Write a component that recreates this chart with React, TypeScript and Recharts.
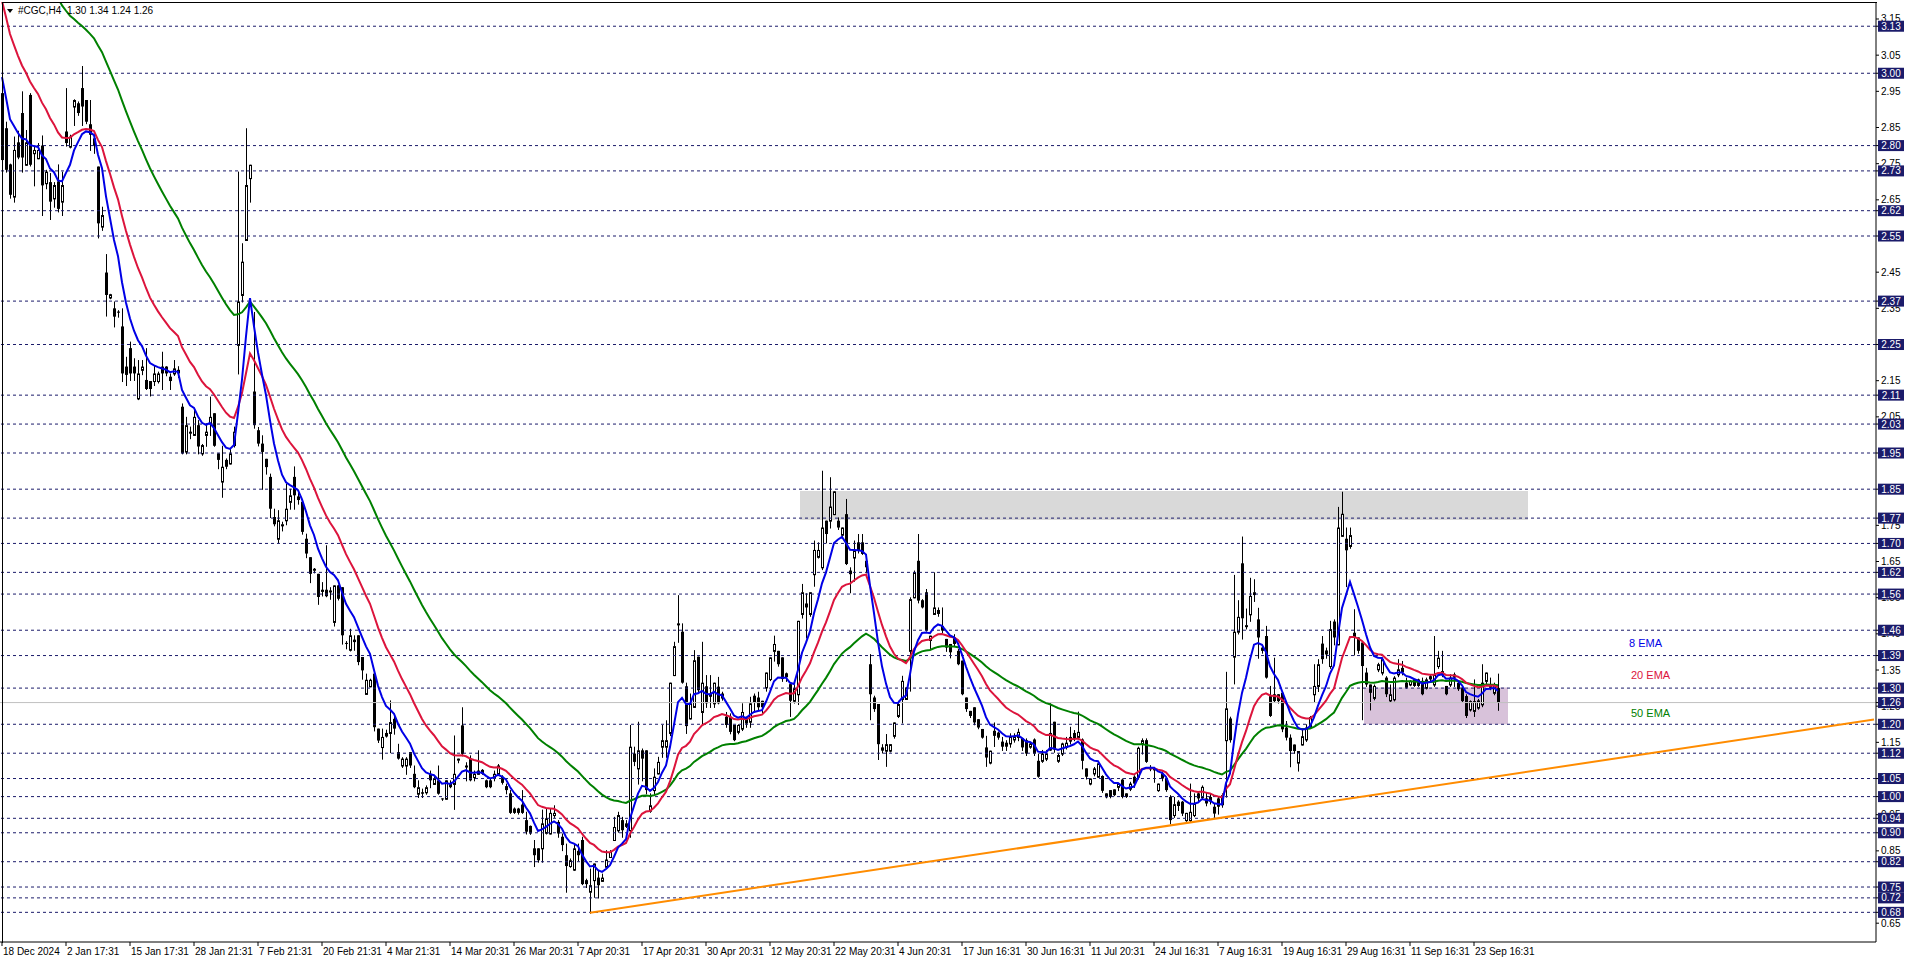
import { ComposedChart, Bar, Line, XAxis, YAxis, ReferenceLine, ReferenceArea } from "recharts";

// H4 candles [open, high, low, close]
const decToFeb = [
  [2.945, 2.95, 2.73, 2.76], [2.848, 2.866, 2.728, 2.733], [2.748, 2.75, 2.656, 2.664], [2.659, 2.825, 2.645, 2.788],
  [2.809, 2.841, 2.765, 2.767], [2.89, 2.95, 2.728, 2.767], [2.747, 2.843, 2.747, 2.809], [2.94, 2.945, 2.745, 2.747],
  [2.779, 2.797, 2.69, 2.788], [2.765, 2.807, 2.765, 2.788], [2.8, 2.828, 2.608, 2.69], [2.696, 2.733, 2.682, 2.728],
  [2.699, 2.724, 2.597, 2.645], [2.654, 2.699, 2.631, 2.691], [2.701, 2.748, 2.618, 2.625], [2.645, 2.728, 2.608, 2.691],
  [2.839, 2.959, 2.8, 2.807], [2.797, 2.83, 2.795, 2.825], [2.908, 2.928, 2.857, 2.926], [2.917, 2.922, 2.885, 2.89],
  [2.959, 3.02, 2.857, 2.908], [2.926, 2.926, 2.862, 2.866], [2.859, 2.926, 2.788, 2.83], [2.82, 2.83, 2.78, 2.8],
  [2.742, 2.742, 2.546, 2.585], [2.576, 2.631, 2.567, 2.608], [2.449, 2.5, 2.33, 2.387], [2.38, 2.39, 2.378, 2.389],
  [2.35, 2.369, 2.3, 2.327], [2.341, 2.345, 2.327, 2.338], [2.3, 2.35, 2.149, 2.17], [2.189, 2.216, 2.138, 2.166],
  [2.24, 2.258, 2.152, 2.17], [2.189, 2.212, 2.152, 2.17], [2.101, 2.207, 2.099, 2.17], [2.18, 2.207, 2.168, 2.189],
  [2.152, 2.24, 2.127, 2.127], [2.149, 2.149, 2.109, 2.127], [2.149, 2.193, 2.138, 2.17], [2.149, 2.175, 2.145, 2.17],
  [2.189, 2.23, 2.127, 2.17], [2.189, 2.19, 2.165, 2.17], [2.161, 2.17, 2.127, 2.149], [2.17, 2.207, 2.166, 2.184],
  [2.18, 2.19, 2.16, 2.17], [2.078, 2.087, 1.949, 1.949], [1.954, 2.05, 1.949, 2.027], [2.009, 2.023, 1.991, 2.009],
  [2.0, 2.074, 2.0, 2.05], [2.027, 2.041, 1.949, 1.968], [1.949, 1.975, 1.945, 1.972], [2.0, 2.032, 1.97, 2.009],
  [2.032, 2.106, 2.0, 2.05], [2.06, 2.06, 1.97, 1.97], [1.949, 1.949, 1.908, 1.931], [1.871, 1.97, 1.829, 1.912],
  [1.931, 1.935, 1.908, 1.912], [1.921, 1.963, 1.921, 1.949], [1.972, 2.023, 1.968, 2.009], [2.249, 2.728, 2.17, 2.369],
  [2.387, 2.53, 2.369, 2.479], [2.539, 2.848, 2.539, 2.691], [2.71, 2.747, 2.645, 2.747], [2.12, 2.34, 2.02, 2.027],
];

const febToApr = [
  [2.013, 2.022, 1.971, 1.976], [1.976, 1.999, 1.851, 1.953], [1.934, 1.934, 1.893, 1.911], [1.884, 1.893, 1.773, 1.796],
  [1.773, 1.796, 1.75, 1.753], [1.713, 1.792, 1.704, 1.764], [1.75, 1.76, 1.736, 1.753], [1.764, 1.865, 1.753, 1.796],
  [1.815, 1.851, 1.796, 1.833], [1.884, 1.913, 1.796, 1.833], [1.83, 1.84, 1.81, 1.82], [1.815, 1.815, 1.727, 1.732],
  [1.713, 1.727, 1.662, 1.672], [1.662, 1.662, 1.593, 1.616], [1.63, 1.632, 1.62, 1.63], [1.616, 1.616, 1.533, 1.552],
  [1.572, 1.593, 1.556, 1.566], [1.572, 1.695, 1.554, 1.554], [1.568, 1.579, 1.547, 1.57], [1.483, 1.584, 1.473, 1.584],
  [1.584, 1.586, 1.545, 1.547], [1.579, 1.579, 1.423, 1.446], [1.425, 1.43, 1.41, 1.423], [1.406, 1.464, 1.404, 1.446],
  [1.43, 1.446, 1.406, 1.434], [1.446, 1.446, 1.366, 1.372], [1.386, 1.386, 1.326, 1.349], [1.284, 1.34, 1.284, 1.323],
  [1.305, 1.326, 1.305, 1.323], [1.34, 1.34, 1.183, 1.192], [1.188, 1.188, 1.151, 1.155], [1.137, 1.188, 1.105, 1.165],
  [1.176, 1.185, 1.166, 1.166], [1.176, 1.266, 1.123, 1.206], [1.215, 1.229, 1.174, 1.188], [1.123, 1.146, 1.105, 1.105],
  [1.086, 1.109, 1.082, 1.105], [1.086, 1.109, 1.063, 1.105], [1.123, 1.123, 1.082, 1.086], [1.063, 1.086, 1.026, 1.026],
  [1.008, 1.045, 0.999, 1.026], [1.012, 1.022, 0.999, 1.008], [1.012, 1.031, 1.008, 1.026], [1.063, 1.072, 1.026, 1.045],
  [1.035, 1.054, 1.035, 1.049], [1.045, 1.086, 1.008, 1.008], [0.995, 0.995, 0.991, 0.993], [0.994, 1.045, 0.994, 1.045],
  [1.035, 1.045, 1.026, 1.026], [1.035, 1.169, 0.966, 1.063], [1.105, 1.105, 1.095, 1.105], [1.197, 1.247, 1.114, 1.118],
  [1.086, 1.095, 1.045, 1.086], [1.105, 1.114, 1.045, 1.045], [1.054, 1.072, 1.045, 1.063], [1.063, 1.128, 1.063, 1.072],
  [1.074, 1.076, 1.063, 1.063], [1.045, 1.047, 1.026, 1.026], [1.045, 1.05, 1.026, 1.026], [1.054, 1.072, 1.045, 1.063],
  [1.063, 1.09, 1.06, 1.086],
];

const aprToMay = [
  [1.055, 1.059, 1.036, 1.038], [1.029, 1.036, 1.009, 1.018], [1.009, 1.018, 0.955, 0.955], [0.967, 0.97, 0.955, 0.955],
  [0.967, 0.969, 0.953, 0.955], [0.978, 1.018, 0.955, 0.955], [0.935, 0.958, 0.898, 0.903], [0.919, 0.92, 0.897, 0.898],
  [0.857, 0.88, 0.808, 0.838], [0.857, 0.857, 0.82, 0.824], [0.857, 0.964, 0.82, 0.926], [0.9, 0.967, 0.898, 0.94],
  [0.898, 0.967, 0.898, 0.955], [0.949, 0.976, 0.944, 0.955], [0.93, 0.935, 0.889, 0.898], [0.889, 0.898, 0.852, 0.866],
  [0.838, 0.87, 0.737, 0.808], [0.808, 0.829, 0.806, 0.824], [0.798, 0.87, 0.797, 0.857], [0.85, 0.87, 0.824, 0.838],
  [0.88, 0.889, 0.758, 0.758], [0.769, 0.773, 0.75, 0.758], [0.737, 0.801, 0.679, 0.755], [0.769, 0.815, 0.723, 0.815],
  [0.776, 0.797, 0.721, 0.755], [0.767, 0.787, 0.767, 0.776], [0.806, 0.852, 0.806, 0.826], [0.833, 0.852, 0.833, 0.847],
  [0.88, 0.944, 0.88, 0.916], [0.907, 0.958, 0.903, 0.949], [0.935, 0.944, 0.889, 0.907], [0.919, 0.935, 0.916, 0.926],
  [0.907, 1.198, 0.889, 1.138], [1.119, 1.138, 1.087, 1.096], [1.078, 1.207, 1.036, 1.128], [1.128, 1.133, 1.045, 1.105],
  [1.128, 1.128, 1.009, 1.018], [0.961, 1.009, 0.958, 0.976], [1.018, 1.078, 1.009, 1.055], [1.064, 1.11, 1.064, 1.096],
  [1.138, 1.198, 1.11, 1.156], [1.138, 1.211, 1.11, 1.156], [1.176, 1.315, 1.17, 1.315], [1.336, 1.428, 1.336, 1.416],
  [1.477, 1.557, 1.428, 1.479], [1.456, 1.479, 1.315, 1.315], [1.305, 1.315, 1.176, 1.195], [1.216, 1.285, 1.216, 1.258],
  [1.248, 1.405, 1.248, 1.377], [1.387, 1.387, 1.292, 1.294], [1.234, 1.428, 1.202, 1.315], [1.305, 1.336, 1.248, 1.258],
  [1.285, 1.336, 1.248, 1.276], [1.258, 1.315, 1.248, 1.315], [1.304, 1.331, 1.258, 1.258], [1.285, 1.29, 1.268, 1.271],
  [1.221, 1.234, 1.193, 1.198], [1.221, 1.23, 1.175, 1.179], [1.198, 1.198, 1.156, 1.156], [1.179, 1.2, 1.175, 1.198],
  [1.188, 1.258, 1.184, 1.234], [1.216, 1.221, 1.193, 1.202],
];

const mayToJul = [
  [1.207, 1.276, 1.193, 1.258], [1.279, 1.285, 1.235, 1.26], [1.274, 1.29, 1.24, 1.247], [1.265, 1.265, 1.233, 1.247],
  [1.302, 1.343, 1.293, 1.343], [1.325, 1.385, 1.322, 1.385], [1.403, 1.445, 1.376, 1.422], [1.403, 1.403, 1.362, 1.366],
  [1.385, 1.385, 1.32, 1.325], [1.341, 1.343, 1.32, 1.33], [1.311, 1.311, 1.223, 1.265], [1.265, 1.31, 1.26, 1.3],
  [1.283, 1.486, 1.256, 1.486], [1.505, 1.588, 1.495, 1.565], [1.534, 1.562, 1.44, 1.523], [1.505, 1.565, 1.5, 1.565],
  [1.615, 1.708, 1.583, 1.682], [1.663, 1.703, 1.661, 1.682], [1.634, 1.901, 1.629, 1.744], [1.763, 1.763, 1.703, 1.726],
  [1.763, 1.883, 1.744, 1.802], [1.781, 1.844, 1.781, 1.844], [1.763, 1.772, 1.74, 1.744], [1.724, 1.744, 1.717, 1.744],
  [1.781, 1.823, 1.643, 1.643], [1.625, 1.634, 1.565, 1.615], [1.661, 1.708, 1.597, 1.68], [1.703, 1.726, 1.675, 1.68],
  [1.703, 1.726, 1.671, 1.671], [1.652, 1.671, 1.62, 1.634], [1.366, 1.394, 1.214, 1.283], [1.274, 1.279, 1.237, 1.242],
  [1.256, 1.256, 1.104, 1.145], [1.136, 1.145, 1.122, 1.127], [1.127, 1.173, 1.085, 1.145], [1.127, 1.145, 1.125, 1.145],
  [1.168, 1.205, 1.163, 1.205], [1.223, 1.265, 1.22, 1.256], [1.27, 1.334, 1.205, 1.32], [1.27, 1.302, 1.27, 1.302],
  [1.403, 1.551, 1.293, 1.546], [1.551, 1.625, 1.551, 1.62], [1.652, 1.726, 1.537, 1.542], [1.543, 1.546, 1.523, 1.523],
  [1.565, 1.574, 1.459, 1.459], [1.433, 1.445, 1.408, 1.445], [1.505, 1.62, 1.505, 1.523], [1.516, 1.523, 1.5, 1.505],
  [1.472, 1.523, 1.454, 1.459], [1.436, 1.436, 1.403, 1.412], [1.422, 1.422, 1.385, 1.399], [1.44, 1.449, 1.417, 1.422],
  [1.403, 1.408, 1.366, 1.366], [1.376, 1.376, 1.283, 1.283], [1.274, 1.274, 1.237, 1.242], [1.237, 1.237, 1.22, 1.223],
  [1.247, 1.247, 1.2, 1.205], [1.214, 1.214, 1.189, 1.191], [1.187, 1.187, 1.163, 1.163], [1.136, 1.168, 1.085, 1.108],
  [1.094, 1.127, 1.092, 1.127], [1.182, 1.205, 1.14, 1.168], [1.177, 1.18, 1.16, 1.163],
];

const julToAug = [
  [1.152, 1.165, 1.129, 1.138], [1.149, 1.156, 1.129, 1.138], [1.147, 1.175, 1.138, 1.165], [1.158, 1.175, 1.152, 1.167],
  [1.165, 1.188, 1.156, 1.179], [1.161, 1.161, 1.129, 1.136], [1.156, 1.161, 1.115, 1.119], [1.138, 1.15, 1.135, 1.147],
  [1.158, 1.161, 1.115, 1.119], [1.099, 1.119, 1.055, 1.055], [1.099, 1.129, 1.096, 1.119], [1.105, 1.129, 1.101, 1.119],
  [1.13, 1.258, 1.129, 1.176], [1.207, 1.207, 1.124, 1.13], [1.099, 1.119, 1.096, 1.115], [1.119, 1.149, 1.115, 1.147],
  [1.138, 1.165, 1.133, 1.149], [1.165, 1.193, 1.147, 1.152], [1.176, 1.184, 1.156, 1.161], [1.165, 1.235, 1.161, 1.179],
  [1.158, 1.161, 1.078, 1.099], [1.078, 1.078, 1.05, 1.055], [1.036, 1.05, 1.034, 1.05], [1.064, 1.082, 1.059, 1.078],
  [1.055, 1.092, 1.055, 1.092], [1.057, 1.059, 1.013, 1.016], [1.009, 1.009, 0.998, 0.998], [1.018, 1.018, 0.998, 0.999],
  [1.02, 1.02, 1.004, 1.004], [1.027, 1.036, 1.018, 1.036], [1.047, 1.05, 0.998, 0.999], [1.009, 1.009, 0.999, 0.999],
  [1.022, 1.041, 1.018, 1.036], [1.055, 1.059, 1.027, 1.036], [1.055, 1.138, 1.05, 1.135], [1.147, 1.161, 1.119, 1.156],
  [1.156, 1.161, 1.096, 1.096], [1.078, 1.087, 1.073, 1.082], [1.078, 1.082, 1.041, 1.078], [1.018, 1.036, 1.016, 1.036],
  [1.064, 1.069, 1.045, 1.05], [1.05, 1.05, 1.016, 1.018], [0.999, 1.004, 0.926, 0.935], [0.949, 0.999, 0.944, 0.979],
  [0.986, 0.99, 0.963, 0.974], [0.986, 0.988, 0.949, 0.953], [0.935, 0.955, 0.933, 0.955], [0.935, 1.036, 0.93, 0.958],
  [0.949, 1.009, 0.946, 0.981], [1.009, 1.013, 0.99, 0.995], [0.999, 1.031, 0.995, 1.027], [0.995, 1.013, 0.976, 0.981],
  [0.999, 1.009, 0.981, 0.986], [0.972, 0.981, 0.944, 0.953], [0.995, 0.999, 0.953, 0.972], [1.004, 1.009, 0.972, 0.976],
  [1.156, 1.345, 1.0, 1.244], [1.216, 1.221, 1.152, 1.156], [1.387, 1.613, 1.313, 1.456], [1.456, 1.543, 1.451, 1.497],
  [1.645, 1.719, 1.437, 1.493], [1.474, 1.52, 1.465, 1.474],
];

const augToSep = [
  [1.504, 1.605, 1.486, 1.555], [1.56, 1.601, 1.541, 1.565], [1.49, 1.522, 1.384, 1.44], [1.412, 1.416, 1.398, 1.403],
  [1.444, 1.472, 1.329, 1.329], [1.278, 1.306, 1.223, 1.223], [1.283, 1.384, 1.264, 1.264], [1.283, 1.283, 1.26, 1.264],
  [1.287, 1.292, 1.181, 1.186], [1.191, 1.209, 1.158, 1.163], [1.163, 1.172, 1.084, 1.126], [1.144, 1.144, 1.121, 1.126],
  [1.094, 1.126, 1.072, 1.126], [1.144, 1.186, 1.144, 1.167], [1.158, 1.2, 1.154, 1.191], [1.195, 1.223, 1.191, 1.22],
  [1.283, 1.366, 1.264, 1.306], [1.306, 1.38, 1.292, 1.366], [1.423, 1.444, 1.37, 1.38], [1.404, 1.412, 1.384, 1.393],
  [1.361, 1.486, 1.356, 1.463], [1.484, 1.49, 1.421, 1.44], [1.421, 1.801, 1.421, 1.744], [1.721, 1.843, 1.721, 1.782],
  [1.713, 1.744, 1.582, 1.681], [1.693, 1.744, 1.688, 1.723], [1.453, 1.518, 1.393, 1.44], [1.44, 1.44, 1.398, 1.403],
  [1.426, 1.426, 1.214, 1.361], [1.343, 1.356, 1.306, 1.31], [1.31, 1.31, 1.241, 1.287], [1.273, 1.31, 1.269, 1.306],
  [1.352, 1.37, 1.347, 1.366], [1.343, 1.384, 1.338, 1.38], [1.329, 1.333, 1.278, 1.283], [1.266, 1.31, 1.264, 1.283],
  [1.269, 1.333, 1.266, 1.329], [1.338, 1.38, 1.333, 1.352], [1.356, 1.375, 1.338, 1.343], [1.315, 1.329, 1.301, 1.301],
  [1.31, 1.322, 1.308, 1.32], [1.324, 1.326, 1.306, 1.306], [1.324, 1.326, 1.306, 1.306], [1.32, 1.329, 1.283, 1.283],
  [1.301, 1.329, 1.299, 1.324], [1.333, 1.336, 1.322, 1.324], [1.31, 1.444, 1.306, 1.338], [1.361, 1.403, 1.356, 1.384],
  [1.338, 1.403, 1.333, 1.347], [1.306, 1.306, 1.283, 1.283], [1.31, 1.338, 1.306, 1.329], [1.338, 1.343, 1.306, 1.329],
  [1.315, 1.318, 1.295, 1.297], [1.301, 1.306, 1.264, 1.264], [1.278, 1.283, 1.22, 1.223], [1.241, 1.266, 1.238, 1.264],
  [1.237, 1.324, 1.223, 1.264], [1.246, 1.27, 1.243, 1.266], [1.255, 1.366, 1.25, 1.315], [1.32, 1.343, 1.31, 1.343],
  [1.31, 1.329, 1.297, 1.301], [1.287, 1.315, 1.283, 1.31], [1.3, 1.34, 1.24, 1.26],
];

// EMA values just before the first visible bar (the averages start above the window)
const emaStart = { e8: 3.055, e20: 3.246, e50: 3.603 };

const dateLabels = [
  "18 Dec 2024", "2 Jan 17:31", "15 Jan 17:31", "28 Jan 21:31", "7 Feb 21:31", "20 Feb 21:31",
  "4 Mar 21:31", "14 Mar 20:31", "26 Mar 20:31", "7 Apr 20:31", "17 Apr 20:31", "30 Apr 20:31",
  "12 May 20:31", "22 May 20:31", "4 Jun 20:31", "17 Jun 16:31", "30 Jun 16:31", "11 Jul 20:31",
  "24 Jul 16:31", "7 Aug 16:31", "19 Aug 16:31", "29 Aug 16:31", "11 Sep 16:31", "23 Sep 16:31",
];

const levels = [
  3.13, 3.0, 2.8, 2.73, 2.62, 2.55, 2.37, 2.25, 2.11, 2.03, 1.95, 1.85, 1.77, 1.7, 1.62,
  1.56, 1.46, 1.39, 1.3, 1.2, 1.12, 1.05, 1.0, 0.94, 0.9, 0.82, 0.75, 0.72, 0.68,
];
const bidLevel = 1.26;

const priceTicks = [0.65, 0.75, 0.85, 0.95, 1.05, 1.15, 1.25, 1.35, 1.45, 1.55, 1.65, 1.75, 1.85, 1.95, 2.05,
  2.15, 2.25, 2.35, 2.45, 2.55, 2.65, 2.75, 2.85, 2.95, 3.05, 3.15];

const trendStart = { i: 147, p: 0.679 };
const trendEnd = { i: 468, p: 1.213 };
const resistZone = { from: 200, to: 381, lo: 1.765, hi: 1.845 };
const rangeZone = { from: 341, to: 376, lo: 1.2, hi: 1.302 };

const TOTAL_SLOTS = 469;
const FONT = "'Liberation Sans', Arial, sans-serif";
const NAVY = "#1b1b6a";

const candles = [...decToFeb, ...febToApr, ...aprToMay, ...mayToJul, ...julToAug, ...augToSep];

const emaOf = (seed: number, n: number) => {
  const k = 2 / (n + 1);
  let e = seed;
  return candles.map((c) => (e = e + k * (c[3] - e)));
};
const ema8 = emaOf(emaStart.e8, 8);
const ema20 = emaOf(emaStart.e20, 20);
const ema50 = emaOf(emaStart.e50, 50);

const rows = Array.from({ length: TOTAL_SLOTS }, (_, i) => {
  const c = candles[i];
  if (!c) return { i };
  return { i, o: c[0], h: c[1], l: c[2], c: c[3], ema8: ema8[i], ema20: ema20[i], ema50: ema50[i] };
});

const dateTicks = dateLabels.map((_, k) => k * 16);

// plain price ticks first, level tags after so the tags paint on top
const tagValues = new Set([...levels, bidLevel]);
const axisTicks = [...priceTicks.filter((t) => !tagValues.has(t)), ...levels, bidLevel];

const Candle = (props: any) => {
  const { x, y, width, height, payload } = props;
  if (!payload || payload.h == null || x == null) return null;
  const cx = Math.round(x + width / 2);
  const top = Math.min(y, y + height);
  const bottom = Math.max(y, y + height);
  const span = payload.h - payload.l;
  const py = (v: number) => (span > 0 ? top + ((payload.h - v) / span) * (bottom - top) : top);
  const bTop = py(Math.max(payload.o, payload.c));
  const bBot = py(Math.min(payload.o, payload.c));
  const up = payload.c >= payload.o;
  return (
    <g>
      <line x1={cx + 0.5} x2={cx + 0.5} y1={top} y2={bottom + 1} stroke="#000" strokeWidth={1} />
      {up ? (
        <rect x={cx - 0.5} y={bTop + 0.5} width={2} height={Math.max(bBot - bTop, 1)} fill="#fff" stroke="#000" strokeWidth={1} />
      ) : (
        <rect x={cx - 1} y={bTop} width={3} height={Math.max(bBot - bTop, 1)} fill="#000" />
      )}
    </g>
  );
};

const DateTick = ({ x, payload }: any) => (
  <text x={x + 1} y={955} fontSize={10} fontFamily={FONT} fill="#000" textAnchor="start">
    {dateLabels[payload.value / 16]}
  </text>
);

const PriceTick = ({ y, payload }: any) => {
  const v = payload.value;
  if (tagValues.has(v)) {
    return (
      <g>
        <rect x={1878} y={y - 5.5} width={26} height={11} fill={NAVY} />
        <text x={1891} y={y + 3.5} fontSize={10} fontFamily={FONT} fill="#fff" textAnchor="middle">
          {v.toFixed(2)}
        </text>
      </g>
    );
  }
  return (
    <text x={1881} y={y + 3.5} fontSize={10} fontFamily={FONT} fill="#000" textAnchor="start">
      {v.toFixed(2)}
    </text>
  );
};

export default function App() {
  return (
    <div style={{ position: "absolute", left: 0, top: 0, width: 1916, height: 963, background: "#fff", fontFamily: FONT }}>
      <ComposedChart width={1916} height={963} data={rows} margin={{ top: 2, right: 0, bottom: 0, left: 0 }} barCategoryGap={0}>
        <XAxis
          dataKey="i"
          type="category"
          ticks={dateTicks}
          interval={0}
          height={21}
          tickSize={4}
          tick={<DateTick />}
          axisLine={{ stroke: "#000" }}
          tickLine={{ stroke: "#000" }}
        />
        <YAxis
          orientation="right"
          type="number"
          domain={[0.598, 3.197]}
          allowDataOverflow
          ticks={axisTicks}
          interval={0}
          width={40}
          tickSize={3}
          tick={<PriceTick />}
          axisLine={{ stroke: "#000" }}
          tickLine={{ stroke: "#000" }}
        />
        <ReferenceArea x1={resistZone.from} x2={resistZone.to} y1={resistZone.lo} y2={resistZone.hi} fill="#d9d9d9" fillOpacity={1} stroke="none" />
        <ReferenceArea x1={rangeZone.from} x2={rangeZone.to} y1={rangeZone.lo} y2={rangeZone.hi} fill="#d8c2da" fillOpacity={1} stroke="none" />
        {levels.map((lv) => (
          <ReferenceLine key={lv} y={lv} stroke={NAVY} strokeDasharray="3 3" strokeWidth={1} />
        ))}
        <ReferenceLine y={bidLevel} stroke="#c0c0c0" strokeWidth={1} />
        <ReferenceLine
          segment={[{ x: trendStart.i, y: trendStart.p }, { x: trendEnd.i, y: trendEnd.p }]}
          stroke="#ff8c00"
          strokeWidth={2}
        />
        <Bar dataKey={(d: any) => (d.h == null ? null : [d.l, d.h])} shape={Candle} isAnimationActive={false} />
        <Line dataKey="ema50" stroke="#008000" strokeWidth={2} dot={false} isAnimationActive={false} />
        <Line dataKey="ema20" stroke="#dc143c" strokeWidth={2} dot={false} isAnimationActive={false} />
        <Line dataKey="ema8" stroke="#0000e6" strokeWidth={2} dot={false} isAnimationActive={false} />
      </ComposedChart>

      <div style={{ position: "absolute", left: 2, top: 2, width: 1874, height: 940, borderLeft: "1px solid #000", borderTop: "1px solid #000", pointerEvents: "none" }} />
      <div style={{ position: "absolute", left: 7, top: 9, width: 0, height: 0, borderLeft: "3px solid transparent", borderRight: "3px solid transparent", borderTop: "4px solid #000" }} />
      <div style={{ position: "absolute", left: 18, top: 4, fontSize: 10, lineHeight: "14px", color: "#000", whiteSpace: "pre" }}>
        {"#CGC,H4  1.30 1.34 1.24 1.26"}
      </div>
      <div style={{ position: "absolute", left: 1629, top: 637, fontSize: 11, color: "#0000e6" }}>8 EMA</div>
      <div style={{ position: "absolute", left: 1631, top: 669, fontSize: 11, color: "#dc143c" }}>20 EMA</div>
      <div style={{ position: "absolute", left: 1631, top: 707, fontSize: 11, color: "#008000" }}>50 EMA</div>
    </div>
  );
}
